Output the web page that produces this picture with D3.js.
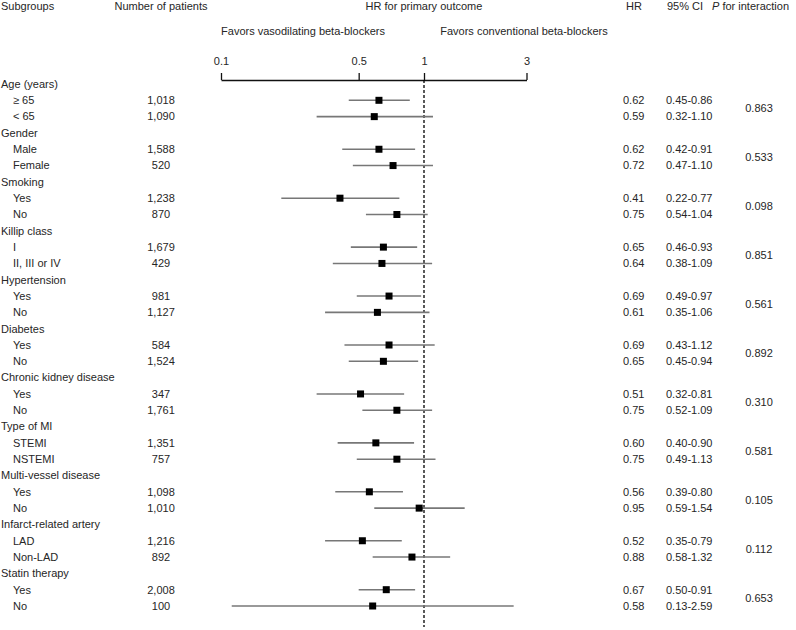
<!DOCTYPE html>
<html>
<head>
<meta charset="utf-8">
<script src="https://cdn.jsdelivr.net/npm/d3@7"></script>
<style>
  body { margin: 0; background: #fff; }
  text { font-family: "Liberation Sans", Arial, sans-serif; font-size: 11px; fill: #262626; }
</style>
</head>
<body>
<div id="chart"></div>
<script>
(function(){
    // subgroup headers and their two levels
    const groups = ['Age (years)', 'Gender', 'Smoking', 'Killip class', 'Hypertension', 'Diabetes',
        'Chronic kidney disease', 'Type of MI', 'Multi-vessel disease', 'Infarct-related artery', 'Statin therapy'];
    const levels = [
        ['\u2265 65', '< 65'], ['Male', 'Female'], ['Yes', 'No'], ['I', 'II, III or IV'],
        ['Yes', 'No'], ['Yes', 'No'], ['Yes', 'No'], ['STEMI', 'NSTEMI'],
        ['Yes', 'No'], ['LAD', 'Non-LAD'], ['Yes', 'No']
    ];
    const patients = [
        ['1,018', '1,090'], ['1,588', '520'], ['1,238', '870'], ['1,679', '429'],
        ['981', '1,127'], ['584', '1,524'], ['347', '1,761'], ['1,351', '757'],
        ['1,098', '1,010'], ['1,216', '892'], ['2,008', '100']
    ];
    const hr = [
        [0.62, 0.59], [0.62, 0.72], [0.41, 0.75], [0.65, 0.64], [0.69, 0.61], [0.69, 0.65],
        [0.51, 0.75], [0.60, 0.75], [0.56, 0.95], [0.52, 0.88], [0.67, 0.58]
    ];
    const ciLow = [
        [0.45, 0.32], [0.42, 0.47], [0.22, 0.54], [0.46, 0.38], [0.49, 0.35], [0.43, 0.45],
        [0.32, 0.52], [0.40, 0.49], [0.39, 0.59], [0.35, 0.58], [0.50, 0.13]
    ];
    const ciHigh = [
        [0.86, 1.10], [0.91, 1.10], [0.77, 1.04], [0.93, 1.09], [0.97, 1.06], [1.12, 0.94],
        [0.81, 1.09], [0.90, 1.13], [0.80, 1.54], [0.79, 1.32], [0.91, 2.59]
    ];
    const pInteraction = ['0.863', '0.533', '0.098', '0.851', '0.561', '0.892', '0.310', '0.581', '0.105', '0.112', '0.653'];
    const tickValues = [0.1, 0.5, 1, 3];

    const width = 796;
    const height = 630;

    const svg = d3.select('#chart')
        .append('svg')
            .attr('width', width)
            .attr('height', height);

    // flatten into rows: header row, then two level rows per group
    const rows = [];
    groups.forEach((g, i) => {
        rows.push({ type: 'header', label: g, gi: i });
        levels[i].forEach((l, j) => {
            rows.push({
                type: 'level', label: l, gi: i, n: patients[i][j],
                hr: hr[i][j], lo: ciLow[i][j], hi: ciHigh[i][j]
            });
        });
    });

    const yScale = d3.scalePoint()
        .domain(d3.range(rows.length))
        .range([84, 606]);

    // ~217 px per decade, HR = 1 at x = 424
    const xScale = d3.scaleLog()
        .domain([0.1, 1, 3])
        .range([207, 424, 527.5]);

    // the printed axis places 0.1 a little right of its true log position
    const axisScale = d3.scaleLog()
        .domain(tickValues)
        .range([221, xScale(0.5), xScale(1), 526.5]);

    const axisY = 80;

    // column headers
    const headers = [
        { t: 'Subgroups', x: 1, a: 'start' },
        { t: 'Number of patients', x: 161, a: 'middle' },
        { t: 'HR for primary outcome', x: 424, a: 'middle' },
        { t: 'HR', x: 634, a: 'middle' },
        { t: '95% CI', x: 685, a: 'middle' }
    ];
    svg.selectAll('.hdr')
        .data(headers)
        .enter()
        .append('text')
            .attr('class', 'hdr')
            .attr('x', d => d.x)
            .attr('y', 10)
            .attr('text-anchor', d => d.a)
            .text(d => d.t);

    const pHdr = svg.append('text')
        .attr('x', 712)
        .attr('y', 10);
    pHdr.append('tspan').style('font-style', 'italic').text('P');
    pHdr.append('tspan').text(' for interaction');

    svg.append('text')
        .attr('x', 303)
        .attr('y', 35)
        .attr('text-anchor', 'middle')
        .text('Favors vasodilating beta-blockers');

    svg.append('text')
        .attr('x', 524)
        .attr('y', 35)
        .attr('text-anchor', 'middle')
        .text('Favors conventional beta-blockers');

    // axis
    const xAxis = d3.axisTop(axisScale)
        .tickValues(tickValues)
        .tickFormat(d3.format('~g'))
        .tickSize(7)
        .tickSizeOuter(0)
        .tickPadding(8);

    const ax = svg.append('g')
        .attr('transform', `translate(0, ${axisY})`)
        .call(xAxis);
    ax.select('.domain').attr('stroke', '#111').attr('stroke-width', 1.3);
    ax.selectAll('.tick line').attr('stroke', '#111').attr('stroke-width', 1.3);
    ax.selectAll('.tick text')
        .style('font-family', '"Liberation Sans", Arial, sans-serif')
        .style('font-size', '11px')
        .attr('fill', '#262626');

    // reference line at HR = 1
    svg.append('line')
        .attr('x1', xScale(1))
        .attr('x2', xScale(1))
        .attr('y1', axisY)
        .attr('y2', 627)
        .attr('stroke', '#000')
        .attr('stroke-width', 1.3)
        .attr('stroke-dasharray', '3,2');

    const row = svg.selectAll('.row')
        .data(rows)
        .enter()
        .append('g')
            .attr('class', 'row')
            .attr('transform', (d, i) => `translate(0, ${yScale(i)})`);

    row.append('text')
        .attr('x', d => d.type === 'header' ? 1 : 13)
        .attr('dy', '0.35em')
        .text(d => d.label);

    const lv = row.filter(d => d.type === 'level');

    lv.append('text')
        .attr('x', 161)
        .attr('dy', '0.35em')
        .attr('text-anchor', 'middle')
        .text(d => d.n);

    lv.append('line')
        .attr('x1', d => xScale(d.lo))
        .attr('x2', d => xScale(d.hi))
        .attr('stroke', '#777')
        .attr('stroke-width', 1.6);

    lv.append('rect')
        .attr('x', d => xScale(d.hr) - 3.5)
        .attr('y', -3.5)
        .attr('width', 7)
        .attr('height', 7)
        .attr('fill', '#000');

    lv.append('text')
        .attr('x', 623)
        .attr('dy', '0.35em')
        .text(d => d3.format('.2f')(d.hr));

    lv.append('text')
        .attr('x', 666)
        .attr('dy', '0.35em')
        .text(d => `${d3.format('.2f')(d.lo)}-${d3.format('.2f')(d.hi)}`);

    // p for interaction, centred between the two level rows
    svg.selectAll('.pval')
        .data(pInteraction)
        .enter()
        .append('text')
            .attr('class', 'pval')
            .attr('x', 759)
            .attr('y', (d, i) => (yScale(i * 3 + 1) + yScale(i * 3 + 2)) / 2)
            .attr('dy', '0.35em')
            .attr('text-anchor', 'middle')
            .text(d => d);
}())
</script>
</body>
</html>
